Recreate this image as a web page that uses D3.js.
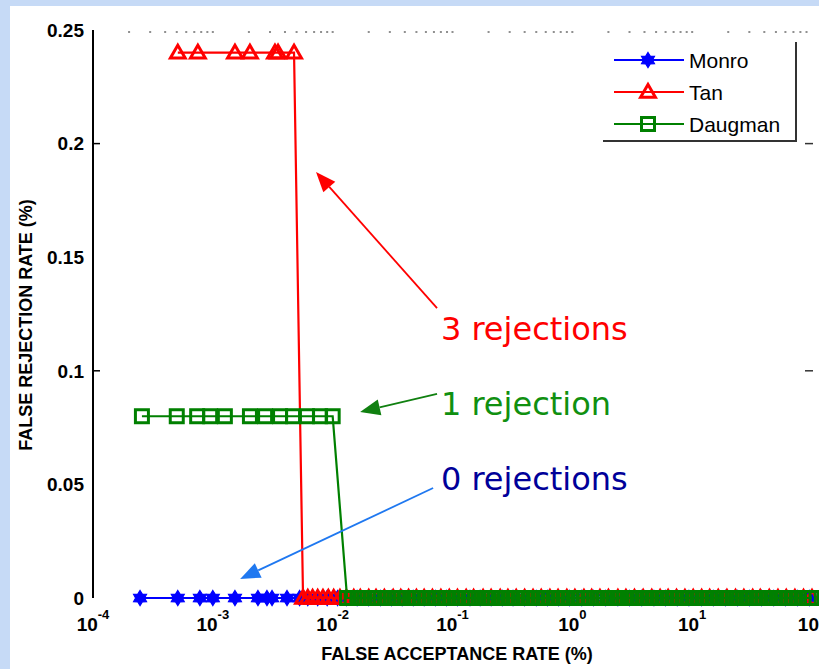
<!DOCTYPE html>
<html>
<head>
<meta charset="utf-8">
<script src="https://cdn.jsdelivr.net/npm/d3@7"></script>
<style>
  body { margin: 0; background: #c6daf6; }
  svg { display: block; }
</style>
</head>
<body>
<div id="chart"></div>
<script>
// Series data: x = false acceptance rate (%), y = false rejection rate (%)
const monroX = [0.000247, 0.00051, 0.00078, 0.0010, 0.00153, 0.00238, 0.00283, 0.00312, 0.00416,
  0.0053, 0.0062, 0.0075, 0.009, 0.011, 0.013, 0.016, 0.02, 0.025, 0.031, 0.038, 0.047, 0.058, 0.072,
  0.089, 0.11, 0.14, 0.17, 0.21, 0.26, 0.32, 0.4, 0.5, 0.62, 0.77, 0.95, 1.2, 1.5, 1.9, 2.4, 3.0,
  3.8, 4.8, 6.0, 7.5, 9.4, 12, 15, 19, 24, 30, 38, 48, 60, 76, 95];
const monroY = monroX.map(() => 0);

const tanX = [0.00051, 0.00075, 0.00153, 0.00204, 0.0033, 0.0035, 0.00476,
  0.00566, 0.0062, 0.0068, 0.0075, 0.0083, 0.0092, 0.0102, 0.0115, 0.013, 0.015, 0.017, 0.02, 0.023,
  0.027, 0.032, 0.037, 0.043, 0.05, 0.058, 0.068, 0.08, 0.094, 0.11, 0.13, 0.15, 0.18, 0.21, 0.25,
  0.29, 0.34, 0.4, 0.47, 0.55, 0.65, 0.76, 0.9, 1.05, 1.25, 1.45, 1.7, 2.0, 2.4, 2.8, 3.3, 3.9, 4.6,
  5.4, 6.3, 7.4, 8.7, 10.2, 12, 14, 16.5, 19.5, 23, 27, 32, 37, 44, 52, 61, 72, 85, 100];
const tanY = [0.24, 0.24, 0.24, 0.24, 0.24, 0.24, 0.24].concat(tanX.slice(7).map(() => 0));

const daugmanX = [0.000256, 0.0005, 0.00074, 0.00095, 0.00126, 0.00204, 0.00273, 0.00364, 0.00467,
  0.0061, 0.00785, 0.0100,
  0.0132, 0.0144, 0.0161, 0.0175, 0.0195, 0.0212, 0.0236, 0.0255, 0.0285, 0.031, 0.0345, 0.0375,
  0.0415, 0.0458, 0.05, 0.0553, 0.0605, 0.067, 0.0732, 0.081, 0.0885, 0.098, 0.107, 0.119, 0.129,
  0.143, 0.156, 0.174, 0.19, 0.21, 0.229, 0.254, 0.278, 0.307, 0.336, 0.372, 0.407, 0.45, 0.493,
  0.545, 0.596, 0.658, 0.722, 0.797, 0.873, 0.965, 1.06, 1.17, 1.27, 1.41, 1.54, 1.71, 1.86, 2.07,
  2.26, 2.5, 2.73, 3.03, 3.3, 3.66, 4.0, 4.43, 4.85, 5.37, 5.87, 6.5, 7.1, 7.85, 8.6, 9.5, 10.4,
  11.5, 12.6, 13.9, 15.2, 16.9, 18.4, 20.4, 22.3, 24.7, 27.0, 29.9, 32.7, 36.1, 39.5, 43.7, 47.9,
  53, 58, 64, 70, 77.5, 85, 94, 100];
const daugmanY = daugmanX.map((d, i) => i < 12 ? 0.08 : 0);

const seriesNames = ["Monro", "Tan", "Daugman"];
const seriesColors = ["#0000ff", "#ff0000", "#008000"];
const seriesMarkers = ["star", "triangle", "square"];

const xTickExps = [-4, -3, -2, -1, 0, 1, 2];
const yTickValues = [0, 0.05, 0.1, 0.15, 0.2, 0.25];
const yTickLabels = ["0", "0.05", "0.1", "0.15", "0.2", "0.25"];
const yTickMarks = [0.1, 0.2];

// annotations in data coordinates
const noteTexts = ["3 rejections", "1 rejection", "0 rejections"];
const noteColors = ["#ff0000", "#109010", "#000099"];
const arrowColors = ["#ff0000", "#108010", "#1f78f0"];
const noteAt = [[0.08, 0.1135], [0.08, 0.0805], [0.08, 0.0475]];
const arrowFrom = [[0.0743, 0.1276], [0.0743, 0.0898], [0.0689, 0.0484]];
const arrowTo = [[0.00726, 0.1875], [0.01694, 0.0819], [0.00169, 0.0084]];

const width = 819, height = 669;

const svg = d3.select("#chart").append("svg")
  .attr("width", width)
  .attr("height", height);

// white figure area inside the blue frame
svg.append("rect")
  .attr("x", 10).attr("y", 6)
  .attr("width", width - 10).attr("height", height - 6)
  .attr("fill", "#ffffff");

const x = d3.scaleLog().domain([1e-4, 1e2]).range([93, 812]);
const y = d3.scaleLinear().domain([0, 0.25]).range([598, 30]);

// left axis line
svg.append("line")
  .attr("x1", x(1e-4)).attr("x2", x(1e-4))
  .attr("y1", y(0.25)).attr("y2", y(0))
  .attr("stroke", "#000").attr("stroke-width", 2);

// y tick marks (inward, both sides)
yTickMarks.forEach(v => {
  svg.append("line")
    .attr("x1", x(1e-4)).attr("x2", x(1e-4) + 7)
    .attr("y1", y(v)).attr("y2", y(v))
    .attr("stroke", "#000").attr("stroke-width", 1.5);
  svg.append("line")
    .attr("x1", x(1e2) - 7).attr("x2", x(1e2) + 1)
    .attr("y1", y(v)).attr("y2", y(v))
    .attr("stroke", "#333").attr("stroke-width", 1.5);
});

// minor log ticks along top edge (only faint remnants visible)
const minorTicks = x.ticks().filter(v => v > 1e-4 && v < 1e2);
svg.append("g").selectAll("rect")
  .data(minorTicks)
  .join("rect")
  .attr("x", d => x(d) - 1)
  .attr("y", y(0.25) + 1)
  .attr("width", 2)
  .attr("height", 2)
  .attr("fill", "#222")
  .attr("opacity", 0.5);

// y tick labels
svg.append("g").selectAll("text")
  .data(yTickValues)
  .join("text")
  .attr("x", 84)
  .attr("y", d => y(d))
  .attr("dy", "0.36em")
  .attr("text-anchor", "end")
  .style("font-family", "Liberation Sans, Arial, sans-serif")
  .style("font-weight", "bold")
  .style("font-size", "19px")
  .text((d, i) => yTickLabels[i]);

// x tick labels: 10^n
const xLabels = svg.append("g").selectAll("text")
  .data(xTickExps)
  .join("text")
  .attr("x", d => x(Math.pow(10, d)))
  .attr("y", 631)
  .attr("text-anchor", "middle")
  .style("font-family", "Liberation Sans, Arial, sans-serif")
  .style("font-weight", "bold")
  .style("font-size", "19px");
xLabels.append("tspan").text("10");
xLabels.append("tspan")
  .attr("dy", -12)
  .style("font-size", "13px")
  .text(d => d);

// axis titles
svg.append("text")
  .attr("x", 457).attr("y", 660)
  .attr("text-anchor", "middle")
  .style("font-family", "Liberation Sans, Arial, sans-serif")
  .style("font-weight", "bold")
  .style("font-size", "18px")
  .text("FALSE ACCEPTANCE RATE (%)");

svg.append("text")
  .attr("transform", "translate(32,325) rotate(-90)")
  .attr("text-anchor", "middle")
  .style("font-family", "Liberation Sans, Arial, sans-serif")
  .style("font-weight", "bold")
  .style("font-size", "18px")
  .text("FALSE REJECTION RATE (%)");

// marker shapes
const hexPts = d3.range(12).map(k => {
  const a = -Math.PI / 2 + k * Math.PI / 6;
  const r = k % 2 === 0 ? 7.5 : 4.5;
  return [r * Math.cos(a), r * Math.sin(a)];
});
const starPath = "M" + hexPts.map(p => p.join(",")).join("L") + "Z";
const triPath = d3.symbol().type(d3.symbolTriangle).size(95)();
function drawMarker(g, type, color, cx, cy) {
  if (type === "square") {
    g.append("rect")
      .attr("x", cx - 6.5).attr("y", cy - 6.5)
      .attr("width", 13).attr("height", 13)
      .attr("fill", "none").attr("stroke", color).attr("stroke-width", 3);
  } else if (type === "triangle") {
    g.append("path").attr("d", triPath)
      .attr("transform", `translate(${cx},${cy + 1})`)
      .attr("fill", "none").attr("stroke", color).attr("stroke-width", 3);
  } else {
    g.append("path").attr("d", starPath)
      .attr("transform", `translate(${cx},${cy})`)
      .attr("fill", color).attr("stroke", color).attr("stroke-width", 1.2);
  }
}

const allX = [monroX, tanX, daugmanX];
const allY = [monroY, tanY, daugmanY];
const line = d3.line().x(d => x(d[0])).y(d => y(d[1]));

const plot = svg.append("g");
seriesNames.forEach((name, s) => {
  const pts = allX[s].map((v, i) => [v, allY[s][i]]);
  const g = plot.append("g");
  g.append("path")
    .datum(pts)
    .attr("d", line)
    .attr("fill", "none")
    .attr("stroke", seriesColors[s])
    .attr("stroke-width", 2.2);
  pts.forEach(p => drawMarker(g, seriesMarkers[s], seriesColors[s], x(p[0]), y(p[1])));
});

// legend
const legend = svg.append("g");
legend.append("polyline")
  .attr("points", "603,141 796,141 796,42")
  .attr("fill", "none").attr("stroke", "#333").attr("stroke-width", 2);
seriesNames.forEach((name, s) => {
  const ly = 60 + s * 32;
  legend.append("line")
    .attr("x1", 614).attr("x2", 684)
    .attr("y1", ly).attr("y2", ly)
    .attr("stroke", seriesColors[s]).attr("stroke-width", 2);
  drawMarker(legend, seriesMarkers[s], seriesColors[s], 648, ly);
  legend.append("text")
    .attr("x", 689).attr("y", ly)
    .attr("dy", "0.36em")
    .style("font-family", "Liberation Sans, Arial, sans-serif")
    .style("font-size", "21px")
    .text(name);
});

// annotations with arrows
noteTexts.forEach((t, i) => {
  const [x0, y0] = [x(arrowFrom[i][0]), y(arrowFrom[i][1])];
  const [x1, y1] = [x(arrowTo[i][0]), y(arrowTo[i][1])];
  const ang = Math.atan2(y1 - y0, x1 - x0);
  const headLen = 20, headW = 8;
  const bx = x1 - headLen * Math.cos(ang), by = y1 - headLen * Math.sin(ang);
  svg.append("line")
    .attr("x1", x0).attr("y1", y0).attr("x2", bx).attr("y2", by)
    .attr("stroke", arrowColors[i]).attr("stroke-width", 1.8);
  svg.append("polygon")
    .attr("points", [
      [x1, y1],
      [bx + headW * Math.sin(ang), by - headW * Math.cos(ang)],
      [bx - headW * Math.sin(ang), by + headW * Math.cos(ang)]
    ].map(p => p.join(",")).join(" "))
    .attr("fill", arrowColors[i]);
  svg.append("text")
    .attr("x", x(noteAt[i][0]))
    .attr("y", y(noteAt[i][1]))
    .attr("fill", noteColors[i])
    .style("font-family", "DejaVu Sans, Verdana, sans-serif")
    .style("font-size", "32px")
    .text(t);
});
</script>
</body>
</html>
